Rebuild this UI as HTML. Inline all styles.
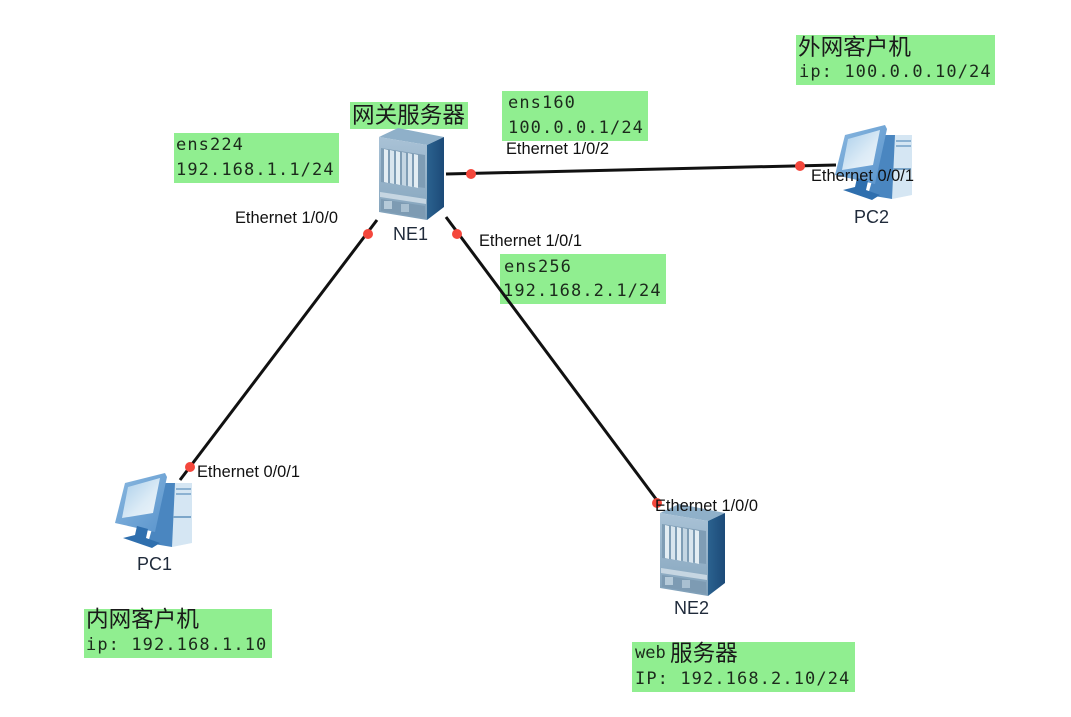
<!DOCTYPE html>
<html><head><meta charset="utf-8"><style>
html,body{margin:0;padding:0;background:#fff}
svg{display:block}
.m{font-family:"DejaVu Sans Mono","Liberation Mono",monospace;font-size:17px;fill:#1c2a1c;letter-spacing:1.1px}
.c{font-family:"Liberation Sans","Noto Sans CJK SC",sans-serif;font-size:22.6px;fill:#1a1a1a}
.e{font-family:"Liberation Sans",sans-serif;font-size:16.4px;fill:#111}
.n{font-family:"Liberation Sans",sans-serif;font-size:18px;fill:#1f2a3a}
</style></head><body>
<svg width="1071" height="717" viewBox="0 0 1071 717" xmlns="http://www.w3.org/2000/svg">
<defs>
<linearGradient id="f" x1="0" y1="0" x2="0" y2="1"><stop offset="0" stop-color="#a9c2d6"/><stop offset=".7" stop-color="#8fadc4"/><stop offset="1" stop-color="#7f9fb8"/></linearGradient>
<linearGradient id="s" x1="0" y1="0" x2="1" y2="0"><stop offset="0" stop-color="#2b628f"/><stop offset="1" stop-color="#1c4a78"/></linearGradient>
<g id="ne">
<polygon points="379,137 398,128 444,137 427,145" fill="#8fb0c9"/>
<polygon points="379,137 427,145 427,220 379,212" fill="url(#f)"/>
<polygon points="427,145 444,137 444,207 427,220" fill="url(#s)"/>
<polygon points="381,148 425,155 425,188 381,182" fill="#7f9db5"/>
<polygon points="384,149 388,150 388,183 384,182" fill="#e3edf3"/>
<polygon points="390,150 394,151 394,184 390,183" fill="#d8e5ee"/>
<polygon points="396,151 400,152 400,185 396,184" fill="#e3edf3"/>
<polygon points="402,152 406,153 406,186 402,185" fill="#c4d6e3"/>
<polygon points="408,153 412,154 412,187 408,186" fill="#d8e5ee"/>
<polygon points="414,154 418,155 418,188 414,187" fill="#e3edf3"/>
<polygon points="380,192 426,199 426,204 380,197" fill="#c6d6e2"/>
<polygon points="381,199 425,206 425,218 381,211" fill="#7d9bb3"/>
<rect x="384" y="201" width="8" height="8" fill="#b5cad9"/>
<rect x="401" y="204" width="8" height="8" fill="#a9c0d1"/>
</g>
<linearGradient id="mon" x1="0" y1="0" x2="1" y2="1"><stop offset="0" stop-color="#8ab8e0"/><stop offset="1" stop-color="#5a94cc"/></linearGradient>
<linearGradient id="scr" x1="0" y1="0" x2="1" y2="1"><stop offset="0" stop-color="#a8cdea"/><stop offset=".6" stop-color="#dcebf6"/><stop offset="1" stop-color="#eef5fa"/></linearGradient>
<g id="pc">
<polygon points="887,135 912,135 912,195 892,199 888,197" fill="#d5e6f3"/>
<polygon points="885,135 895,135 892,199 868,195" fill="#4a86c0"/>
<rect x="896" y="140" width="15" height="2" fill="#8cb2d2"/>
<rect x="896" y="145" width="15" height="2" fill="#8cb2d2"/>
<rect x="893" y="168" width="18" height="2" fill="#7ca6c9"/>
<polygon points="845,135 885,125 887,129 875,184 835,175" fill="url(#mon)"/>
<polygon points="848,139 880,130 873,165 842,170" fill="url(#scr)"/>
<polygon points="857,178 868,181 866,190 880,195 872,200 843,190 855,187" fill="#2f6fae"/>
</g>
</defs>
<rect width="1071" height="717" fill="#fff"/>

<g fill="#90ee90">
<rect x="174" y="133" width="165" height="50"/>
<rect x="350" y="102" width="118" height="27"/>
<rect x="502" y="91" width="146" height="50"/>
<rect x="796" y="35" width="199" height="50"/>
<rect x="500" y="254" width="166" height="50"/>
<rect x="84" y="609" width="188" height="49"/>
<rect x="632" y="642" width="223" height="50"/>
</g>

<g stroke="#111" stroke-width="3" fill="none">
<line x1="446" y1="174" x2="836" y2="165"/>
<line x1="377" y1="220" x2="180" y2="480"/>
<line x1="446" y1="217" x2="659" y2="503"/>
</g>

<use href="#pc"/>
<use href="#pc" x="-720" y="348"/>
<use href="#ne"/>
<use href="#ne" x="281" y="376"/>

<g fill="#f4473c">
<circle cx="471" cy="174" r="5"/>
<circle cx="368" cy="234" r="5"/>
<circle cx="457" cy="234" r="5"/>
<circle cx="800" cy="166" r="5"/>
<circle cx="190" cy="467" r="5"/>
<circle cx="657" cy="503" r="5"/>
</g>

<text class="m" x="176" y="150">ens224</text>
<text class="m" x="176" y="175">192.168.1.1/24</text>
<text class="m" x="508" y="108">ens160</text>
<text class="m" x="508" y="133">100.0.0.1/24</text>
<text class="m" x="504" y="272">ens256</text>
<text class="m" x="503" y="296">192.168.2.1/24</text>
<text class="m" x="799" y="77">ip: 100.0.0.10/24</text>
<text class="m" x="86" y="650">ip: 192.168.1.10</text>
<text class="m" x="635" y="658" style="letter-spacing:0">web</text>
<text class="m" x="635" y="684">IP: 192.168.2.10/24</text>

<text class="c" x="352" y="123">网关服务器</text>
<text class="c" x="798" y="55">外网客户机</text>
<text class="c" x="86" y="627">内网客户机</text>
<text class="c" x="670" y="661">服务器</text>

<text class="e" x="235" y="223">Ethernet 1/0/0</text>
<text class="e" x="506" y="154">Ethernet 1/0/2</text>
<text class="e" x="479" y="246">Ethernet 1/0/1</text>
<text class="e" x="811" y="181">Ethernet 0/0/1</text>
<text class="e" x="197" y="477">Ethernet 0/0/1</text>
<text class="e" x="655" y="511">Ethernet 1/0/0</text>

<text class="n" x="393" y="240">NE1</text>
<text class="n" x="854" y="223">PC2</text>
<text class="n" x="137" y="570">PC1</text>
<text class="n" x="674" y="614">NE2</text>
</svg>
</body></html>
